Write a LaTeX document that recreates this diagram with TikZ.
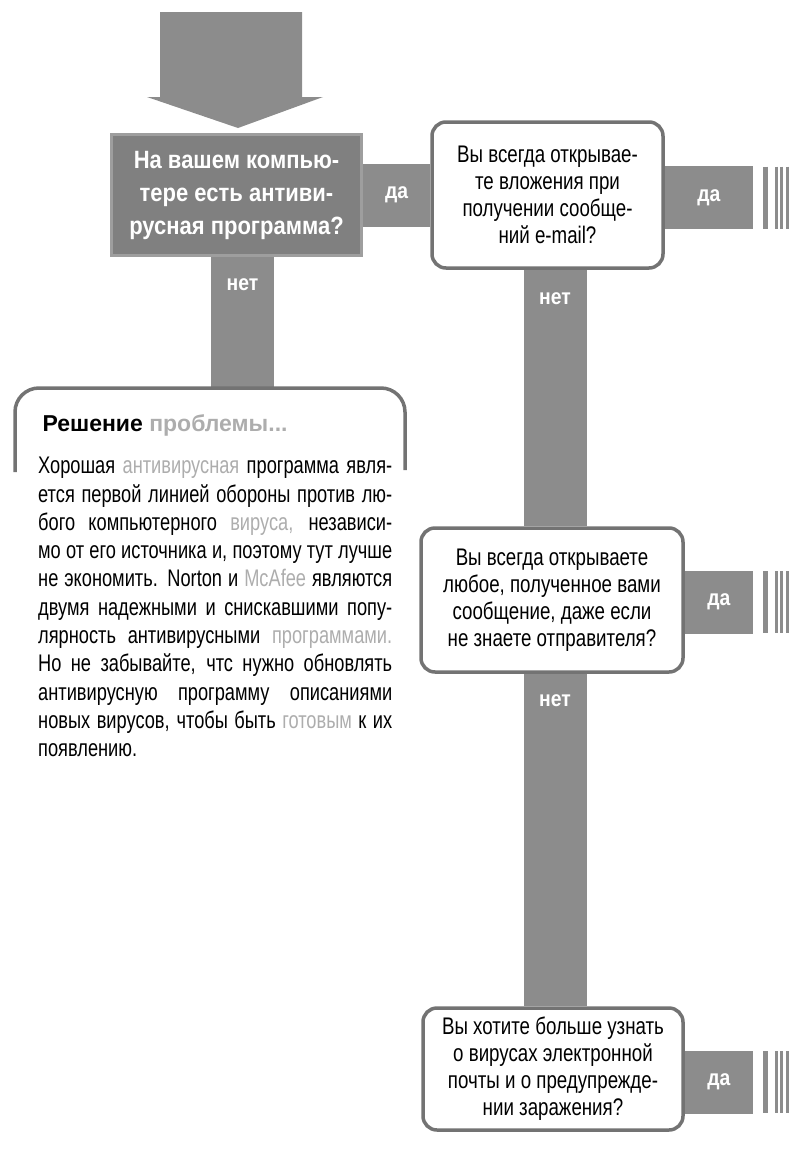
\documentclass[tikz,border=0pt]{standalone}
\usepackage{fontspec}
\setmainfont{Liberation Sans}
\newfontfamily\narrowfont{Liberation Sans}[FakeStretch=0.78]
\newfontfamily\solfont{Liberation Sans}[FakeStretch=0.76]
\newfontfamily\headfont{Liberation Sans}[FakeStretch=0.88]
\usetikzlibrary{backgrounds}
\definecolor{bargray}{gray}{0.55}
\definecolor{boxgray}{gray}{0.5}
\definecolor{edgegray}{gray}{0.62}
\definecolor{linegray}{gray}{0.45}
\definecolor{softgray}{gray}{0.68}
\newcommand{\sline}[1]{\makebox[354pt][s]{#1}}

\begin{document}
\begin{tikzpicture}[x=1pt,y=-1pt,
    question/.style={draw=linegray,line width=3.5pt,rounded corners=14pt,fill=white,
      align=center,inner sep=0pt,font=\narrowfont\fontsize{24}{27}\selectfont},
    first question/.style={fill=boxgray,draw=edgegray,line width=3pt,text=white,
      align=center,inner sep=0pt,font=\headfont\bfseries\fontsize{25}{33}\selectfont},
    bar/.style={draw=bargray,line width=63pt},
    answer/.style={text=white,font=\headfont\bfseries\fontsize{22}{22}\selectfont},
    frame/.style={draw=linegray,line width=3.5pt,rounded corners=24pt}]

\useasboundingbox (0,0) rectangle (792,1154);

% entry arrow
\fill[bargray] (160,12) -- (302,12) -- (302,97) -- (323,97) -- (238,128)
  -- (147,97) -- (160,97) -- cycle;

\node[first question,minimum width=250pt,minimum height=121pt] (q1) at (236.5,195)
  {На вашем компью-\\тере есть антиви-\\русная программа?};
\node[question,minimum width=231pt,minimum height=146pt] (q2) at (547.5,195)
  {Вы всегда открывае-\\те вложения при\\получении сообще-\\ний e-mail?};
\node[question,minimum width=262pt,minimum height=144pt] (q3) at (552,600)
  {Вы всегда открываете\\любое, полученное вами\\сообщение, даже если\\не знаете отправителя?};
\node[question,minimum width=260pt,minimum height=122pt] (q4) at (553,1069)
  {Вы хотите больше узнать\\о вирусах электронной\\почты и о предупрежде-\\нии заражения?};

\coordinate (nocol) at (555,0);
\coordinate (sol top) at (242.5,388);
\coordinate (yes2) at (753,197.5);
\coordinate (yes3) at (753,602);
\coordinate (yes4) at (753,1082);

% solution panel
\draw[frame] (15,472) -- (15,388) -- (405,388) -- (405,470);
\node[anchor=west,font=\bfseries\fontsize{23}{23}\selectfont] (head) at (39,425)
  {Решение \textcolor{softgray}{проблемы...}};
\node[anchor=north west,inner sep=0pt,align=left,
      font=\solfont\fontsize{24}{28.3}\selectfont] (sol) at (38,457)
  {\sline{Хорошая \textcolor{softgray}{антивирусная} программа явля-}\\
   \sline{ется первой линией обороны против лю-}\\
   \sline{бого компьютерного \textcolor{softgray}{вируса,} независи-}\\
   \sline{мо от его источника и, поэтому тут лучше}\\
   \sline{не экономить. Norton и \textcolor{softgray}{McAfee} являются}\\
   \sline{двумя надежными и снискавшими попу-}\\
   \sline{лярность антивирусными \textcolor{softgray}{программами.}}\\
   \sline{Но не забывайте, чтс нужно обновлять}\\
   \sline{антивирусную программу описаниями}\\
   \sline{новых вирусов, чтобы быть \textcolor{softgray}{готовым} к их}\\
   появлению.};

\begin{pgfonlayer}{background}
\draw[bar] (q1) -- node[answer] {да} (q2);
\draw[bar] (q2.east |- yes2) -- node[answer] {да} (yes2);
\draw[bar] (q3.east |- yes3) -- node[answer] {да} (yes3);
\draw[bar] (q4.east |- yes4) -- node[answer] {да} (yes4);
\draw[bar] (q1.south -| sol top) -- node[answer,at start,yshift=-28pt] {нет} (sol top);
\draw[bar] (q2.south -| nocol) -- node[answer,at start,yshift=-29pt] {нет} (q3.north -| nocol);
\draw[bar] (q3.south -| nocol) -- node[answer,at start,yshift=-27pt] {нет} (q4.north -| nocol);
\end{pgfonlayer}

% torn edge stripes
\foreach \c in {yes2,yes3,yes4}
  \foreach \dx/\w in {12/5,23/3,28.5/3,34/3}
    \draw[bargray,line width=\w pt] ([xshift=\dx pt,yshift=31pt]\c) -- ([xshift=\dx pt,yshift=-31pt]\c);
\end{tikzpicture}
\end{document}
